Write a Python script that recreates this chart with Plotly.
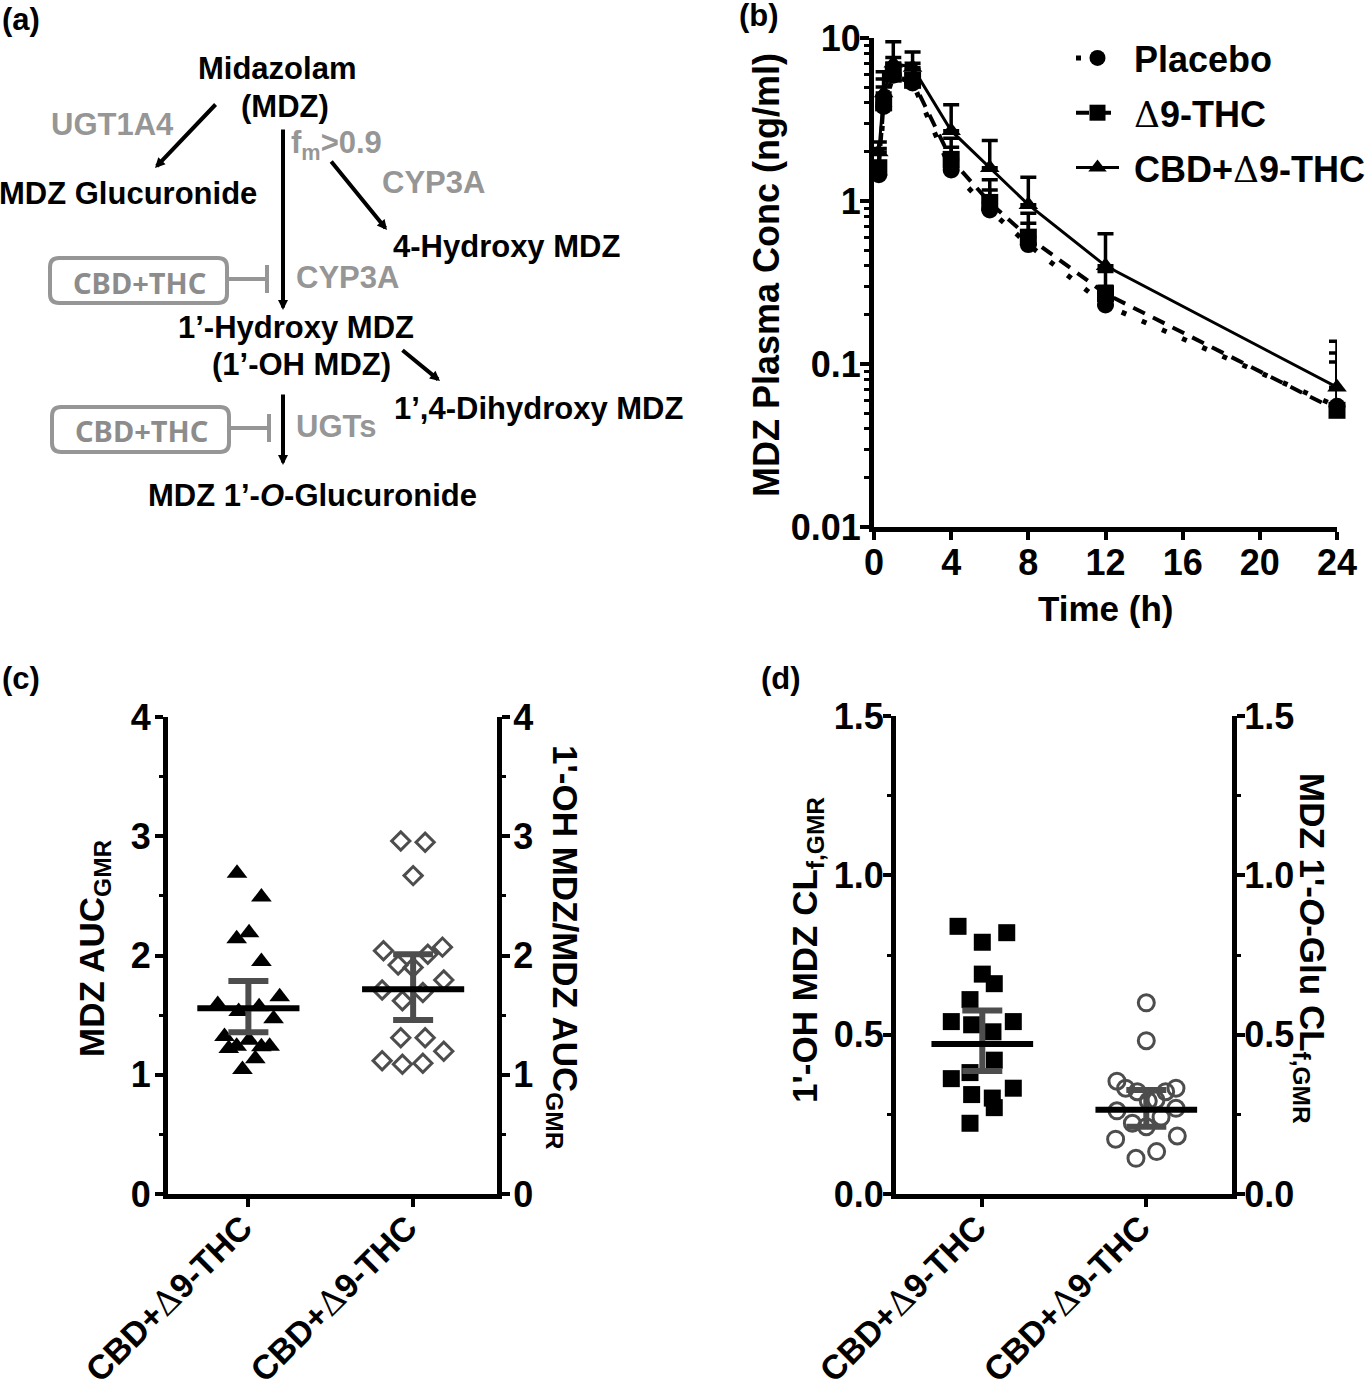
import plotly.graph_objects as go

W, H = 1371, 1384
FONT = "Liberation Sans"
BLACK = "#000000"
GRAY_TXT = "#969696"
GRAY_MARK = "#4d4d4d"

# ---------- panel b data ----------
time_h = [0.25, 0.5, 1, 2, 4, 6, 8, 12, 24]
placebo = [1.45, 3.8, 5.9, 5.3, 1.55, 0.88, 0.54, 0.23, 0.055]
placebo_up = [1.7, 5.0, 7.0, 6.4, 2.14, 1.17, 0.73, 0.30, 0.103]
thc = [1.6, 4.0, 6.0, 5.5, 1.8, 0.98, 0.60, 0.27, 0.052]
thc_up = [2.1, 5.6, 7.6, 7.0, 2.43, 1.35, 0.84, 0.37, 0.117]
cbd_thc = [2.0, 4.6, 7.0, 6.6, 2.7, 1.6, 0.95, 0.40, 0.072]
cbd_thc_up = [2.3, 6.2, 9.5, 8.2, 3.9, 2.35, 1.4, 0.63, 0.138]

# ---------- panel c data ----------
c1_x = [0.931, 1.079, 1.004, 0.929, 1.079, 1.19, 0.814, 1.065, 0.941, 1.153, 0.855, 1.004, 0.929, 0.881, 1.079, 1.129, 1.042, 0.964]
c1_y = [2.69, 2.49, 2.19, 2.14, 1.95, 1.655, 1.59, 1.57, 1.53, 1.47, 1.32, 1.29, 1.24, 1.22, 1.235, 1.24, 1.135, 1.045]
c2_x = [1.925, 2.073, 2.0, 1.82, 2.178, 2.089, 1.909, 2.0, 2.186, 1.812, 2.059, 1.935, 1.925, 2.073, 2.186, 1.812, 1.935, 2.059]
c2_y = [2.96, 2.95, 2.67, 2.04, 2.07, 2.01, 1.92, 1.90, 1.795, 1.71, 1.69, 1.62, 1.31, 1.31, 1.197, 1.118, 1.088, 1.096]
c1_mean, c1_hi, c1_lo = 1.557, 1.786, 1.356
c2_mean, c2_hi, c2_lo = 1.717, 2.01, 1.46

# ---------- panel d data ----------
d1_x = [0.852, 1.149, 1.0, 1.0, 1.073, 0.925, 0.811, 0.935, 1.189, 1.065, 1.073, 0.925, 0.811, 0.935, 1.189, 1.061, 1.073, 0.925]
d1_y = [0.84, 0.82, 0.79, 0.69, 0.66, 0.61, 0.541, 0.531, 0.541, 0.509, 0.42, 0.381, 0.362, 0.312, 0.332, 0.301, 0.271, 0.222]
d2_x = [2.0, 2.0, 1.821, 1.874, 1.945, 2.118, 2.181, 2.059, 2.012, 1.821, 2.181, 1.915, 2.09, 2.0, 1.813, 2.189, 2.063, 1.937]
d2_y = [0.60, 0.481, 0.354, 0.332, 0.321, 0.321, 0.332, 0.295, 0.292, 0.261, 0.269, 0.222, 0.241, 0.211, 0.172, 0.182, 0.133, 0.112]
d1_mean, d1_hi, d1_lo = 0.471, 0.576, 0.386
d2_mean, d2_hi, d2_lo = 0.264, 0.326, 0.211

cat_ticks = [1, 2]
delta = '<span style="font-family:\'DejaVu Serif\';font-weight:normal">Δ</span>'
cat_label = f"CBD+{delta}9-THC"
cat_labels = [cat_label, cat_label]


def px(x):
    return x / W


def py(y):
    return 1 - y / H


fig = go.Figure()


def diff(up, val):
    return [u - v for u, v in zip(up, val)]


def curve(name, val, up, symbol, line):
    fig.add_trace(go.Scatter(
        x=time_h, y=val, name="\u00a0" + name, mode="lines+markers", cliponaxis=False,
        line=line, marker=dict(symbol=symbol, size=17, color=BLACK),
        error_y=dict(type="data", symmetric=False, array=diff(up, val),
                     arrayminus=[0] * len(val), color=BLACK, thickness=3.5, width=8),
        xaxis="x", yaxis="y", legendgroup=name,
    ))


curve("Placebo", placebo, placebo_up, "circle", dict(color=BLACK, width=5, dash="5px,17px"))
curve(f"{delta}9-THC", thc, thc_up, "square", dict(color=BLACK, width=4, dash="13px,9px"))
curve(f"CBD+{delta}9-THC", cbd_thc, cbd_thc_up, "triangle-up", dict(color=BLACK, width=3))


def swarm(xs, ys, symbol, size, xa, ya, mean, hi, lo, cat, open_mark=False):
    marker = dict(symbol=symbol, size=size, color=BLACK)
    if open_mark:
        marker = dict(symbol=symbol, size=size, color=GRAY_MARK, line=dict(color=GRAY_MARK, width=3))
    fig.add_trace(go.Scatter(x=xs, y=ys, mode="markers", marker=marker, showlegend=False,
                             xaxis=xa, yaxis=ya, cliponaxis=False))
    fig.add_trace(go.Scatter(x=[cat], y=[mean], mode="markers", marker=dict(size=1, color=GRAY_MARK),
                             showlegend=False, xaxis=xa, yaxis=ya,
                             error_y=dict(type="data", symmetric=False, array=[hi - mean],
                                          arrayminus=[mean - lo], color=GRAY_MARK, thickness=6, width=20)))
    fig.add_trace(go.Scatter(x=[cat], y=[mean], mode="markers", marker=dict(size=1, color=BLACK),
                             showlegend=False, xaxis=xa, yaxis=ya,
                             error_x=dict(type="data", array=[0.31], color=BLACK, thickness=6, width=0)))


swarm(c1_x, c1_y, "triangle-up", 18, "x2", "y2", c1_mean, c1_hi, c1_lo, 1)
swarm(c2_x, c2_y, "diamond-open", 14, "x2", "y3", c2_mean, c2_hi, c2_lo, 2, True)
swarm(d1_x, d1_y, "square", 17, "x3", "y4", d1_mean, d1_hi, d1_lo, 1)
swarm(d2_x, d2_y, "circle-open", 16, "x3", "y5", d2_mean, d2_hi, d2_lo, 2, True)

tick_font = dict(family=FONT, size=36, color=BLACK, weight="bold")
ax = dict(showgrid=False, zeroline=False, showline=True, linecolor=BLACK, linewidth=5, automargin=False,
          ticks="outside", tickcolor=BLACK, tickwidth=4, ticklen=8, tickfont=tick_font)
minor = dict(ticks="outside", ticklen=4, tickwidth=3, tickcolor=BLACK, showgrid=False)

log_minor = [m * 10 ** e for e in (-2, -1, 0) for m in (2, 3, 4, 5, 6, 7, 8, 9)]

fig.update_layout(
    width=W, height=H, margin=dict(l=0, r=0, t=0, b=0, autoexpand=False), paper_bgcolor="white", plot_bgcolor="white",
    font=dict(family=FONT, color=BLACK),
    legend=dict(x=px(1071), y=py(28), xanchor="left", yanchor="top", font=dict(family=FONT, size=36, weight="bold"),
                bgcolor="rgba(0,0,0,0)", tracegroupgap=5, itemwidth=43),
    xaxis=dict(ax, domain=[px(874), px(1337)], range=[0, 24], tickvals=[0, 4, 8, 12, 16, 20, 24], anchor="y",
               ticklabelstandoff=-8),
    yaxis=dict(ax, domain=[py(527), py(38)], type="log", range=[-2, 1], anchor="x", ticklabelstandoff=-8,
               tickvals=[0.01, 0.1, 1, 10], ticktext=["0.01", "0.1", "1", "10"], ticklen=9,
               minor=dict(minor, tickmode="array", tickvals=log_minor, ticklen=5)),
    xaxis2=dict(ax, domain=[px(168), px(497)], range=[1 - 80.5 / 165, 2 + 84 / 165], tickvals=cat_ticks,
                ticktext=cat_labels, tickangle=-45, anchor="y2", tickfont=dict(tick_font, size=34),
                ticklabelstandoff=-13, ticklabelshift=-6),
    yaxis2=dict(ax, domain=[py(1194), py(717)], range=[0, 4], tickvals=[0, 1, 2, 3, 4], anchor="x2", ticklabelstandoff=-3,
                minor=dict(minor, tickmode="array", tickvals=[0.5, 1.5, 2.5, 3.5])),
    yaxis3=dict(ax, domain=[py(1194), py(717)], range=[0, 4], tickvals=[0, 1, 2, 3, 4], anchor="x2",
                overlaying="y2", side="right", ticklabelstandoff=-4,
                minor=dict(minor, tickmode="array", tickvals=[0.5, 1.5, 2.5, 3.5])),
    xaxis3=dict(ax, domain=[px(896), px(1232)], range=[1 - 86.3 / 164, 2 + 85.7 / 164], tickvals=cat_ticks,
                ticktext=cat_labels, tickangle=-45, anchor="y4", tickfont=dict(tick_font, size=34),
                ticklabelstandoff=-13, ticklabelshift=-6),
    yaxis4=dict(ax, domain=[py(1194), py(716)], range=[0, 1.5], tickvals=[0, 0.5, 1, 1.5], ticklabelstandoff=-8,
                ticktext=["0.0", "0.5", "1.0", "1.5"], anchor="x3",
                minor=dict(minor, tickmode="array", tickvals=[0.25, 0.75, 1.25])),
    yaxis5=dict(ax, domain=[py(1194), py(716)], range=[0, 1.5], tickvals=[0, 0.5, 1, 1.5], ticklabelstandoff=-8,
                ticktext=["0.0", "0.5", "1.0", "1.5"], anchor="x3", overlaying="y4", side="right",
                minor=dict(minor, tickmode="array", tickvals=[0.25, 0.75, 1.25])),
)


def text(x, y, s, size=31, color=BLACK, angle=0, family=FONT, weight="bold"):
    fig.add_annotation(x=px(x), y=py(y), xref="paper", yref="paper", text=s, showarrow=False,
                       textangle=angle, xanchor="center", yanchor="middle",
                       font=dict(family=family, size=size, color=color, weight=weight))


def arrow(x0, y0, x1, y1):
    fig.add_annotation(x=px(x1), y=py(y1), ax=x0 - x1, ay=y0 - y1, xref="paper", yref="paper",
                       axref="pixel", ayref="pixel", text="", showarrow=True, arrowhead=2,
                       arrowsize=0.5, arrowwidth=4, arrowcolor=BLACK)


def inhibitor(x0, x1, y0, y1, line_y, bar_x, bar_half):
    r = 9
    path = (f"M {px(x0+r)} {py(y0)} L {px(x1-r)} {py(y0)} Q {px(x1)} {py(y0)} {px(x1)} {py(y0+r)} "
            f"L {px(x1)} {py(y1-r)} Q {px(x1)} {py(y1)} {px(x1-r)} {py(y1)} L {px(x0+r)} {py(y1)} "
            f"Q {px(x0)} {py(y1)} {px(x0)} {py(y1-r)} L {px(x0)} {py(y0+r)} Q {px(x0)} {py(y0)} {px(x0+r)} {py(y0)} Z")
    style = dict(color=GRAY_TXT, width=4)
    fig.add_shape(type="path", path=path, xref="paper", yref="paper", line=style)
    fig.add_shape(type="line", x0=px(x1), x1=px(bar_x), y0=py(line_y), y1=py(line_y), xref="paper", yref="paper", line=style)
    fig.add_shape(type="line", x0=px(bar_x), x1=px(bar_x), y0=py(line_y - bar_half), y1=py(line_y + bar_half),
                  xref="paper", yref="paper", line=style)


# panel letters
text(21, 19, "(a)", 31)
text(759, 15, "(b)", 31)
text(21, 679, "(c)", 31)
text(781, 679, "(d)", 31)

# panel a
text(277, 68, "Midazolam")
text(285, 107, "(MDZ)")
text(112, 124, "UGT1A4", color=GRAY_TXT)
text(128, 193, "MDZ Glucuronide")
text(336, 145, "f<sub>m</sub>&gt;0.9", color=GRAY_TXT)
text(433, 182, "CYP3A", color=GRAY_TXT)
text(506, 247, "4-Hydroxy MDZ")
text(139, 282, "CBD+THC", 29, "#8c8c8c", family="Noto Sans")
text(347, 277, "CYP3A", color=GRAY_TXT)
text(296, 327, "1’-Hydroxy MDZ")
text(301, 365, "(1’-OH MDZ)")
text(538, 408, "1’,4-Dihydroxy MDZ")
text(141, 430, "CBD+THC", 29, "#8c8c8c", family="Noto Sans")
text(336, 427, "UGTs", color=GRAY_TXT)
text(312, 496, "MDZ 1’-<i>O</i>-Glucuronide")
arrow(217, 103, 155, 168)
arrow(283, 128, 283, 310)
arrow(330, 160, 387, 230)
arrow(401, 349, 440, 381)
arrow(283, 393, 283, 465)
inhibitor(50, 227, 258, 303, 279, 267, 14)
inhibitor(52, 229, 407, 452, 428, 269, 14)

# axis titles
text(766, 275, "MDZ Plasma Conc (ng/ml)", 36, angle=-90)
text(1105, 608, "Time (h)", 35)
text(94, 948, "MDZ AUC<sub>GMR</sub>", 35, angle=-90)
text(563, 947, "1'-OH MDZ/MDZ AUC<sub>GMR</sub>", 35, angle=90)
text(807, 950, "1'-OH MDZ CL<sub>f,GMR</sub>", 35, angle=-90)
text(1310, 948, "MDZ 1'-<i>O</i>-Glu CL<sub>f,GMR</sub>", 35, angle=90)

fig.write_html("out.html", config=dict(displayModeBar=False), post_script="document.body.style.margin='0';")
